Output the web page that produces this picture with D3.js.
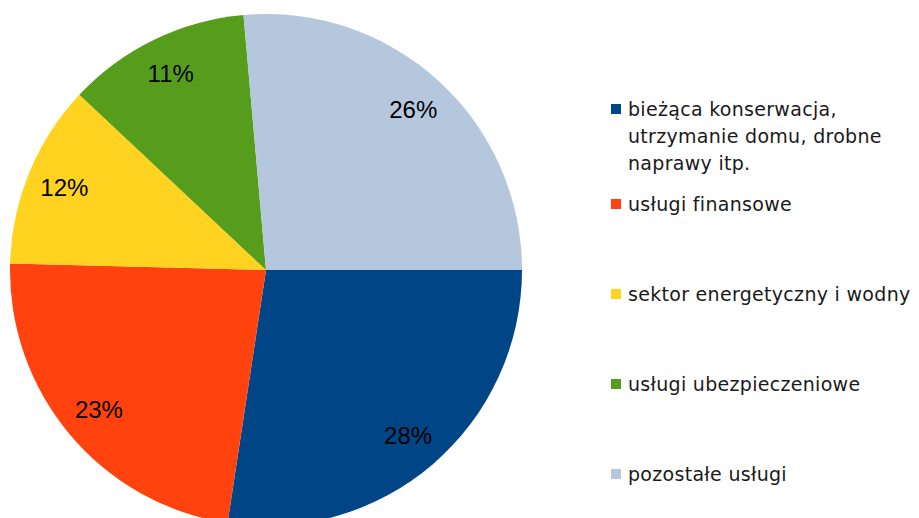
<!DOCTYPE html>
<html>
<head>
<meta charset="utf-8">
<script src="https://cdn.jsdelivr.net/npm/d3@7"></script>
<style>
  html, body { margin: 0; padding: 0; background: #ffffff; }
  svg { display: block; }
</style>
</head>
<body>
<svg id="chart"></svg>
<script>
// category names (legend, may wrap onto several lines)
const categories = [
    ["bieżąca konserwacja,", "utrzymanie domu, drobne", "naprawy itp."],
    ["usługi finansowe"],
    ["sektor energetyczny i wodny"],
    ["usługi ubezpieczeniowe"],
    ["pozostałe usługi"]
];
// share of each slice
const shares = [27.4, 23.0, 11.6, 11.6, 26.4];
// labels printed on the slices
const shareLabels = ["28%", "23%", "12%", "11%", "26%"];
const colors = ["#004586", "#ff420e", "#ffd320", "#579d1c", "#b4c7dc"];

const width = 919, height = 518;
const cx = 266, cy = 270, radius = 256;

const svg = d3.select("#chart")
    .attr("width", width)
    .attr("height", height);

const g = svg.append("g")
    .attr("transform", `translate(${cx}, ${cy})`);

// start at 3 o'clock, go clockwise
const pie = d3.pie()
    .sort(null)
    .value(d => d)
    .startAngle(Math.PI / 2)
    .endAngle(Math.PI / 2 + 2 * Math.PI);

const arc = d3.arc().innerRadius(0).outerRadius(radius);
const labelArc = d3.arc().innerRadius(218).outerRadius(218);

const arcs = pie(shares);

g.selectAll("path.slice")
    .data(arcs)
    .enter()
    .append("path")
    .attr("class", "slice")
    .attr("d", arc)
    .attr("fill", (d, i) => colors[i]);

g.selectAll("text.pct")
    .data(arcs)
    .enter()
    .append("text")
    .attr("class", "pct")
    .attr("transform", d => `translate(${labelArc.centroid(d)})`)
    .attr("text-anchor", "middle")
    .attr("dy", "0.35em")
    .style("font-family", "'Liberation Sans', Arial, sans-serif")
    .style("font-size", "24px")
    .style("fill", "#000")
    .text((d, i) => shareLabels[i]);

// legend
const lineH = 27;
const legend = svg.append("g").attr("transform", "translate(611, 0)");

const items = legend.selectAll("g.item")
    .data(categories)
    .enter()
    .append("g")
    .attr("class", "item")
    .attr("transform", (d, i) => `translate(0, ${i === 0 ? 116 : 121 + i * 90})`);

items.append("rect")
    .attr("x", 0)
    .attr("y", -12)
    .attr("width", 10)
    .attr("height", 10)
    .attr("fill", (d, i) => colors[i]);

items.append("text")
    .attr("x", 17)
    .style("font-family", "'DejaVu Sans', Verdana, sans-serif")
    .style("font-size", "19px")
    .style("letter-spacing", "0.3px")
    .style("fill", "#1a1a1a")
    .selectAll("tspan")
    .data(d => d)
    .enter()
    .append("tspan")
    .attr("x", 17)
    .attr("y", (d, j) => j * lineH)
    .text(d => d);
</script>
</body>
</html>
